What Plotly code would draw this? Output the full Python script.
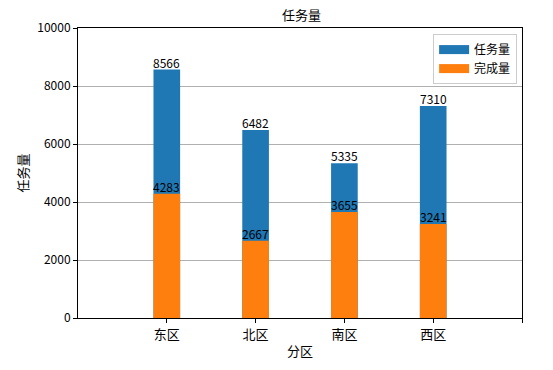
import plotly.graph_objects as go

categories = ["东区", "北区", "南区", "西区"]
tasks = [8566, 6482, 5335, 7310]
done = [4283, 2667, 3655, 3241]
series_names = ["任务量", "完成量"]
series_colors = ["#1f77b4", "#ff7f0e"]
positions = [1, 2, 3, 4]
tick_positions = [1, 2, 3, 4, 5]
tick_labels = categories + [""]
y_ticks = [0, 2000, 4000, 6000, 8000, 10000]

FONT = "Noto Sans CJK SC, DejaVu Sans, sans-serif"

fig = go.Figure()
for name, vals, col in zip(series_names, (tasks, done), series_colors):
    fig.add_trace(go.Bar(x=positions, y=vals, width=0.3, name=name, showlegend=False,
                         marker=dict(color=col, line=dict(width=0))))
# legend-only entries with wide rectangular swatches
for name, col in zip(series_names, series_colors):
    fig.add_trace(go.Scatter(x=[None], y=[None], mode="lines", name=name,
                             line=dict(color=col, width=9)))

for xs, ys in ((positions, tasks), (positions, done)):
    for x, y in zip(xs, ys):
        fig.add_annotation(x=x, y=y, text=str(y), showarrow=False,
                           yanchor="bottom", xanchor="center", yshift=-3,
                           font=dict(size=12, color="black", family=FONT))

fig.update_layout(
    width=553, height=370,
    margin=dict(l=78, r=31, t=28, b=52, autoexpand=False),
    barmode="overlay",
    plot_bgcolor="white", paper_bgcolor="white",
    font=dict(family=FONT, size=12, color="black"),
    title=dict(text="任务量", x=0.545, xanchor="center", y=0.958, yanchor="middle",
               font=dict(size=13, family=FONT)),
    legend=dict(x=0.989, y=0.979, xanchor="right", yanchor="top",
                bordercolor="#cccccc", borderwidth=1, bgcolor="rgba(255,255,255,0.8)",
                font=dict(size=12, family=FONT), itemwidth=30, tracegroupgap=2),
    showlegend=True,
)
fig.update_xaxes(range=[0, 5], tickvals=tick_positions, ticktext=tick_labels,
                 automargin=False,
                 showline=True, linecolor="black", linewidth=1, mirror=True,
                 ticks="outside", ticklen=4, tickcolor="black", showgrid=False,
                 title=dict(text="分区", standoff=5, font=dict(size=13)),
                 tickfont=dict(size=13))
fig.update_yaxes(range=[0, 10000], tickvals=y_ticks, tickformat="d",
                 automargin=False,
                 showline=True, linecolor="black", linewidth=1, mirror=True,
                 ticks="outside", ticklen=4, tickcolor="black",
                 showgrid=True, gridcolor="#b0b0b0", gridwidth=1, zeroline=False,
                 title=dict(text="任务量", standoff=5, font=dict(size=13)),
                 tickfont=dict(size=12))

fig.write_html("out.html", config={"displayModeBar": False},
               post_script="document.body.style.margin='0';document.body.style.padding='0';")
